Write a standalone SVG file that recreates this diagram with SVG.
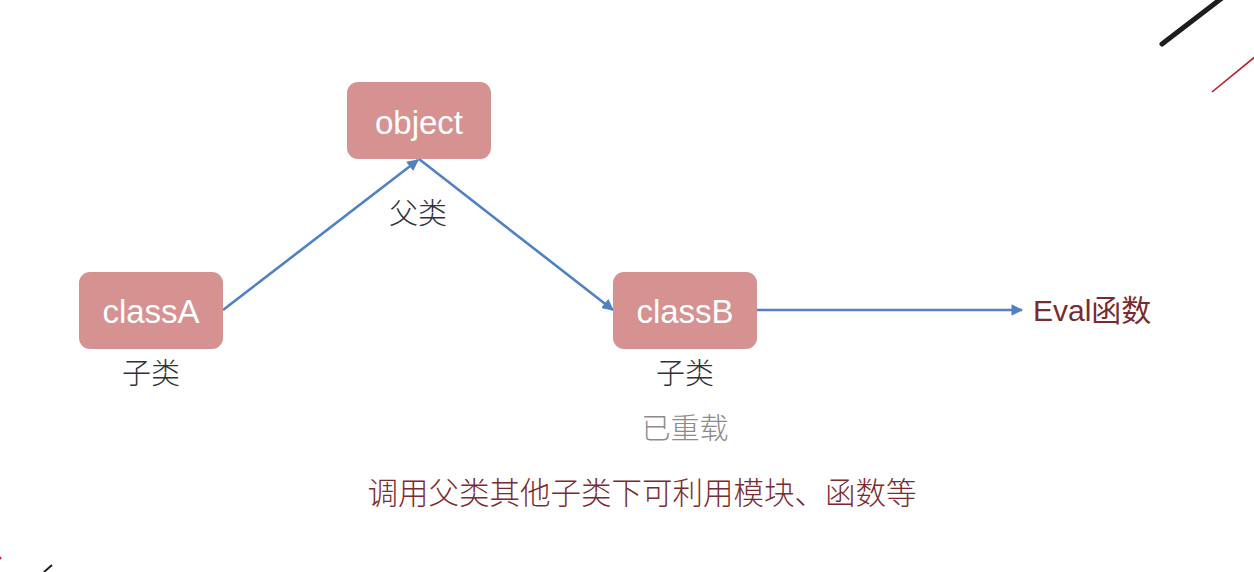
<svg xmlns="http://www.w3.org/2000/svg" width="1254" height="572" viewBox="0 0 1254 572">
  <style>
    .node { fill: #d69291; }
    .nlabel { font-family: "Liberation Sans", Arial, sans-serif; font-size: 33px; fill: #ffffff; text-anchor: middle; }
    .cjk { font-family: "Noto Sans CJK SC", "Liberation Sans", sans-serif; font-weight: 300; }
    .dark { fill: #2e323c; font-size: 29px; text-anchor: middle; }
    .gray { fill: #8c8c8c; font-size: 29px; text-anchor: middle; }
    .red { fill: #7b2b30; }
    .conn { stroke: #4f81c3; stroke-width: 2.6; fill: none; marker-end: url(#arr); }
  </style>
  <defs>
    <marker id="arr" viewBox="0 0 10 10" refX="9" refY="5" markerWidth="4.5" markerHeight="4.5" orient="auto" markerUnits="strokeWidth">
      <path d="M0,0 L10,5 L0,10 z" fill="#4f81c3"/>
    </marker>
  </defs>
  <rect width="1254" height="572" fill="#ffffff"/>

  <g id="decor">
    <line x1="1162" y1="44" x2="1222" y2="-2" stroke="#1e1e1e" stroke-width="5" stroke-linecap="round"/>
    <line x1="1212" y1="92" x2="1256" y2="56" stroke="#c0182e" stroke-width="1.6"/>
    <circle cx="0" cy="558" r="1.5" fill="#d0203a"/>
    <line x1="44" y1="572" x2="52" y2="565" stroke="#1e1e1e" stroke-width="2"/>
  </g>

  <g id="connectors">
    <line class="conn" x1="223" y1="310" x2="418" y2="160"/>
    <line class="conn" x1="419" y1="159" x2="613" y2="310"/>
    <line class="conn" x1="757" y1="310" x2="1022" y2="310"/>
  </g>

  <g id="node-object">
    <rect class="node" x="347" y="82" width="144" height="77" rx="11"/>
    <text class="nlabel" x="419" y="134">object</text>
  </g>
  <g id="node-classA">
    <rect class="node" x="79" y="272" width="144" height="77" rx="11"/>
    <text class="nlabel" x="151" y="323">classA</text>
  </g>
  <g id="node-classB">
    <rect class="node" x="613" y="272" width="144" height="77" rx="11"/>
    <text class="nlabel" x="685" y="323">classB</text>
  </g>

  <g id="labels">
    <text class="cjk dark" x="418" y="224">父类</text>
    <text class="cjk dark" x="151" y="384">子类</text>
    <text class="cjk dark" x="685" y="384">子类</text>
    <text class="cjk gray" x="685" y="439">已重载</text>
    <text class="red" x="1033" y="321" font-family="'Liberation Sans', 'Noto Sans CJK SC', sans-serif" font-size="30">Eval函数</text>
    <text class="cjk red" x="642" y="504" font-size="30.5" text-anchor="middle">调用父类其他子类下可利用模块、函数等</text>
  </g>
</svg>
